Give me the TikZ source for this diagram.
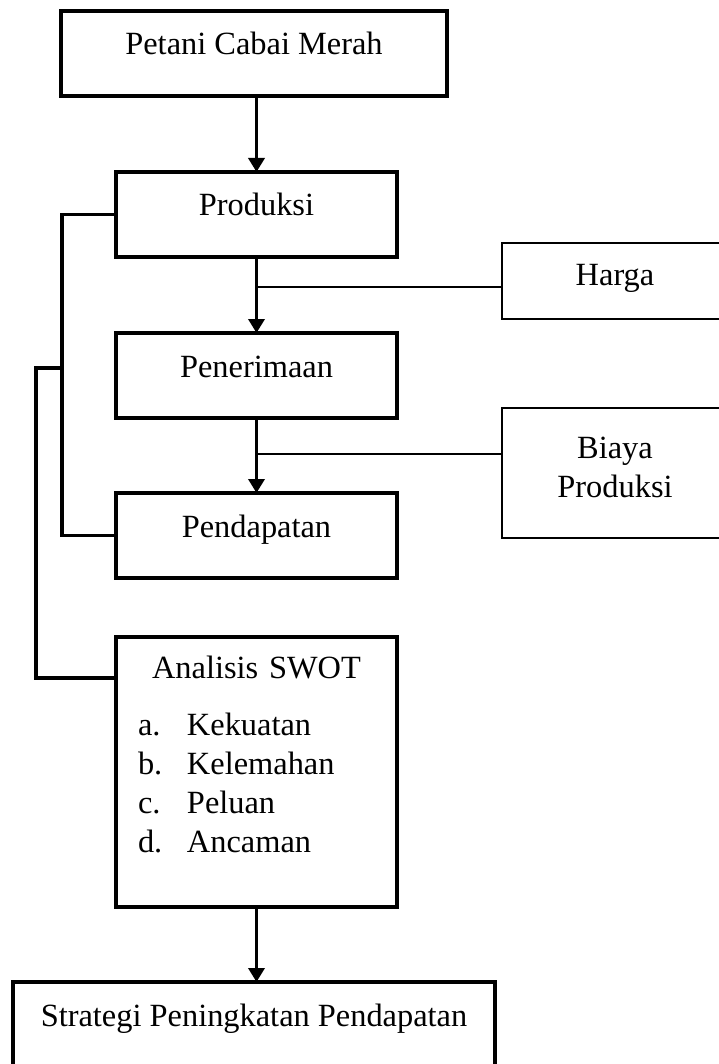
\documentclass[tikz,border=0pt]{standalone}
\usepackage{fontspec}
\setmainfont{Liberation Serif}
\usetikzlibrary{arrows.meta}

\begin{document}
\begin{tikzpicture}[x=0.5pt,y=-0.5pt,
  font=\fontsize{16.2}{19.5}\selectfont,
  box/.style={draw,line width=1.8pt,anchor=north west,inner sep=0pt,outer sep=0pt},
  mainbox/.style={box,minimum width=140.5pt,minimum height=42.5pt,text height=11pt,text depth=9.5pt},
  sidebox/.style={draw,line width=1pt,anchor=north west,inner sep=0pt,outer sep=0pt,minimum width=113pt},
  flow/.style={line width=1.8pt,-{Triangle[length=7pt,width=8pt]}},
  link/.style={line width=1pt},
  bracket/.style={line width=1.8pt}]
  \useasboundingbox (0,0) rectangle (718,1064);

  % main column
  \node[mainbox,minimum width=193pt] (petani) at (61,11) {Petani Cabai Merah};
  \node[mainbox] (prod) at (116,172) {Produksi};
  \node[mainbox] (pen) at (116,333) {Penerimaan};
  \node[mainbox] (pend) at (116,493) {Pendapatan};
  \node[box,minimum width=140.5pt,minimum height=135pt,text width=130.5pt,inner xsep=5pt,align=left,
        text height=11pt,text depth=105pt] (swot) at (116,637)
    {{\centering Analisis SWOT\par}\vspace{9pt}
     \hspace*{6pt}\makebox[24.5pt][l]{a.}Kekuatan\\
     \hspace*{6pt}\makebox[24.5pt][l]{b.}Kelemahan\\
     \hspace*{6pt}\makebox[24.5pt][l]{c.}Peluan\\
     \hspace*{6pt}\makebox[24.5pt][l]{d.}Ancaman};
  \node[mainbox,minimum width=241pt] (strat) at (13,982) {Strategi Peningkatan Pendapatan};

  % side factors (cut by the right margin)
  \node[sidebox,minimum height=38pt,text height=11pt,text depth=7pt] (harga) at (502,243) {Harga};
  \node[sidebox,minimum height=65pt,align=center,text depth=6pt] (biaya) at (502,408) {Biaya\\Produksi};

  \draw[flow] (prod.north |- petani.south) -- (prod.north);
  \draw[flow] (prod.south) -- (pen.north);
  \draw[flow] (pen.south) -- (pend.north);
  \draw[flow] (swot.south) -- (swot.south |- strat.north);

  \coordinate (hargajoin) at (prod.south |- 0,287);
  \coordinate (biayajoin) at (pen.south |- 0,454);
  \draw[link] (hargajoin) -- (hargajoin -| harga.west);
  \draw[link] (biayajoin) -- (biayajoin -| biaya.west);

  % left brackets
  \draw[bracket] (prod.west) -- ++(-54,0) coordinate (innertop) -- (innertop |- pend.west) -- (pend.west);
  \coordinate (outerjoin) at (innertop |- 0,368);
  \draw[bracket] (outerjoin) -- ++(-26,0) |- (swot.west |- 0,678);
\end{tikzpicture}
\end{document}
